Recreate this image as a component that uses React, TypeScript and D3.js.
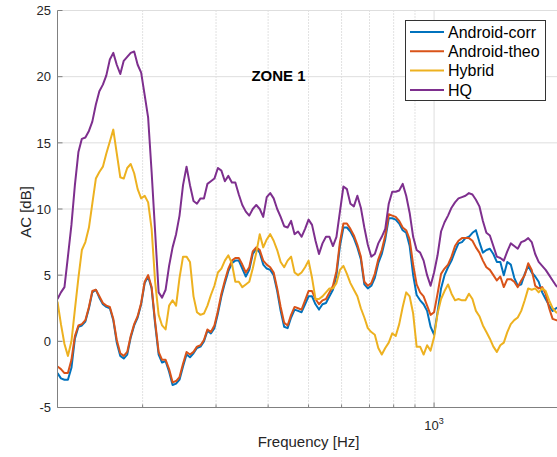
import React from 'react';
import * as d3 from 'd3';

// Frequency grid (Hz), 1/36-octave from 125 Hz to 2 kHz
const FREQ_HZ = [
  125.0, 127.4, 129.9, 132.4, 135.0, 137.6, 140.3, 143.0, 145.8, 148.7,
  151.5, 154.5, 157.5, 160.6, 163.7, 166.9, 170.1, 173.4, 176.8, 180.2,
  183.7, 187.3, 190.9, 194.6, 198.4, 202.3, 206.2, 210.2, 214.3, 218.5,
  222.7, 227.1, 231.5, 236.0, 240.6, 245.2, 250.0,
  254.9, 259.8, 264.9, 270.0, 275.3, 280.6, 286.1, 291.6, 297.3, 303.1,
  309.0, 315.0, 321.1, 327.4, 333.7, 340.2, 346.8, 353.6, 360.4, 367.4,
  374.6, 381.9, 389.3, 396.9, 404.6, 412.4, 420.5, 428.6, 437.0, 445.4,
  454.1, 462.9, 471.9, 481.1, 490.5, 500.0,
  509.7, 519.6, 529.7, 540.0, 550.5, 561.2, 572.1, 583.3, 594.6, 606.2,
  618.0, 630.0, 642.2, 654.7, 667.4, 680.4, 693.6, 707.1, 720.9, 734.9,
  749.2, 763.7, 778.6, 793.7, 809.1, 824.9, 840.9, 857.3, 873.9, 890.9,
  908.2, 925.9, 943.9, 962.2, 980.9, 1000.0,
  1019.4, 1039.3, 1059.5, 1080.1, 1101.1, 1122.5, 1144.3, 1166.5, 1189.2, 1212.3,
  1235.9, 1259.9, 1284.4, 1309.4, 1334.9, 1360.8, 1387.3, 1414.2, 1441.7, 1469.7,
  1498.3, 1527.4, 1557.1, 1587.4, 1618.3, 1649.8, 1681.8, 1714.5, 1747.8, 1781.8,
  1816.4, 1851.8, 1887.8, 1924.5, 1961.9, 2000.0,
];

const ANDROID_CORR = [
  -2.4, -2.8, -2.9, -2.9, -2.0, 0.2, 1.1, 1.2, 1.5, 2.5,
  3.7, 3.9, 3.3, 2.8, 2.6, 2.5, 1.6, -0.1, -1.1, -1.3,
  -1.0, 0.3, 1.2, 1.8, 2.8, 4.4, 4.9, 4.0, 1.3, -1.0,
  -1.6, -1.5, -2.3, -3.3, -3.2, -2.9, -1.9, -1.0, -1.2, -0.9,
  -0.5, -0.4, 0.0, 0.8, 0.6, 1.0, 2.1, 3.4, 4.4, 5.3,
  5.9, 6.1, 6.1, 5.5, 4.9, 5.4, 6.6, 7.0, 6.7, 5.8,
  5.5, 5.4, 5.0, 3.8, 2.3, 1.1, 1.0, 1.8, 2.4, 2.3,
  2.2, 2.8, 3.4, 3.4, 2.8, 2.4, 2.8, 2.9, 3.4, 3.9,
  5.0, 7.2, 8.6, 8.6, 8.3, 7.8, 7.1, 6.2, 4.3, 4.0,
  4.2, 4.8, 5.9, 6.6, 7.7, 9.3, 9.3, 9.2, 8.9, 8.4,
  8.2, 7.2, 5.0, 3.5, 3.1, 2.8, 2.3, 1.1, 0.5, 2.2,
  4.0, 5.0, 5.6, 6.1, 6.8, 7.4, 7.5, 7.8, 7.9, 8.2,
  8.4, 7.5, 6.7, 6.9, 7.0, 6.6, 6.0, 6.0, 5.0, 6.0,
  5.8, 4.8, 4.2, 4.3, 5.1, 5.7, 5.2, 4.9, 4.5, 3.7,
  3.2, 2.7, 2.3, 2.5, 2.6,
];

const ANDROID_THEO = [
  -1.9, -2.1, -2.4, -2.4, -1.4, 0.4, 1.2, 1.3, 1.6, 2.6,
  3.8, 3.9, 3.4, 2.9, 2.7, 2.6, 1.7, 0.1, -0.9, -1.1,
  -0.8, 0.4, 1.3, 1.9, 2.9, 4.5, 5.0, 4.1, 1.5, -0.8,
  -1.4, -1.4, -2.1, -3.1, -3.0, -2.7, -1.7, -0.8, -1.0, -0.8,
  -0.4, -0.3, 0.1, 0.9, 0.7, 1.2, 2.3, 3.6, 4.6, 5.5,
  6.1, 6.3, 6.3, 5.8, 5.2, 5.6, 6.8, 7.1, 6.9, 6.1,
  5.8, 5.6, 5.2, 4.0, 2.6, 1.4, 1.2, 2.0, 2.6, 2.5,
  2.4, 3.1, 3.8, 3.8, 3.2, 2.8, 3.1, 3.2, 3.7, 4.2,
  5.3, 7.5, 8.9, 8.9, 8.5, 8.0, 7.3, 6.4, 4.5, 4.2,
  4.4, 5.1, 6.2, 6.9, 8.0, 9.6, 9.5, 9.4, 9.1, 8.6,
  8.4, 7.7, 5.8, 4.3, 3.7, 3.4, 2.7, 2.0, 2.2, 3.6,
  5.1, 5.5, 5.8, 6.4, 7.2, 7.6, 7.8, 7.8, 7.8, 7.6,
  7.1, 6.7, 6.1, 5.6, 5.4, 5.0, 4.6, 4.9, 4.1, 4.7,
  4.7, 4.5, 4.1, 4.6, 5.0, 5.9, 5.4, 4.2, 4.0, 4.1,
  3.6, 2.5, 1.7, 1.6, 1.6,
];

const HYBRID = [
  3.0, 1.3, -0.2, -1.1, 0.0, 2.4, 4.8, 6.9, 7.5, 8.6,
  10.4, 12.3, 12.8, 13.2, 14.2, 15.1, 16.0, 14.2, 12.4, 12.3,
  13.1, 13.4, 12.7, 11.5, 10.8, 11.0, 10.5, 8.5, 4.5, 2.0,
  1.2, 0.9, 2.7, 3.1, 2.7, 4.8, 6.4, 6.4, 6.0, 3.4,
  2.2, 2.0, 2.1, 2.7, 3.5, 4.2, 5.2, 5.5, 6.1, 6.5,
  5.9, 4.5, 4.5, 4.1, 4.3, 4.5, 5.5, 6.7, 8.1, 7.1,
  7.7, 8.1, 7.6, 6.9, 6.0, 5.6, 6.1, 6.4, 5.2, 5.0,
  5.2, 5.6, 6.1, 4.8, 3.2, 3.2, 3.4, 3.7, 4.0, 4.0,
  4.4, 5.4, 5.7, 5.1, 4.4, 3.9, 3.4, 2.5, 1.8, 1.0,
  0.7, 0.5, -0.5, -1.0, -0.5, -0.1, 0.6, 0.4, 1.3, 2.6,
  3.7, 3.4, 2.1, -0.4, -0.4, -1.0, -0.3, -0.7, 0.3, 2.1,
  3.2, 3.8, 4.3, 3.6, 3.1, 3.2, 3.1, 3.1, 3.6, 3.2,
  2.3, 1.9, 1.2, 0.7, 0.2, -0.4, -0.8, -0.3, -0.1, 0.7,
  1.3, 1.6, 1.8, 2.3, 3.1, 4.0, 3.9, 4.0, 3.7, 4.0,
  3.8, 3.1, 2.5, 2.2, 2.1,
];

const HQ = [
  3.2, 3.7, 4.1, 6.4, 8.8, 11.8, 14.3, 15.3, 15.4, 15.9,
  16.6, 17.9, 18.9, 19.4, 20.1, 21.3, 21.8, 20.9, 20.2, 21.2,
  21.5, 21.8, 21.9, 20.9, 20.3, 18.6, 16.9, 12.8, 8.3, 3.7,
  3.3, 3.9, 5.7, 7.1, 8.1, 9.5, 11.8, 13.2, 11.8, 10.6,
  10.4, 10.8, 10.8, 11.9, 12.1, 12.3, 13.1, 12.9, 12.1, 12.5,
  12.0, 12.0, 11.1, 10.3, 9.8, 9.5, 10.0, 10.3, 10.0, 9.4,
  10.9, 11.2, 10.8, 10.0, 9.4, 8.7, 8.6, 9.1, 8.1, 8.3,
  7.9, 8.5, 9.2, 8.8, 7.6, 6.6, 7.4, 7.9, 7.9, 7.2,
  7.9, 9.8, 11.7, 11.5, 10.4, 10.2, 11.0, 10.1, 8.6, 7.3,
  6.4, 6.6, 7.4, 7.9, 8.5, 10.4, 11.3, 11.3, 11.4, 11.9,
  11.0, 9.7, 7.9, 6.9, 6.7, 6.1, 5.0, 4.2, 5.2, 6.5,
  8.3, 9.0, 9.5, 10.1, 10.5, 10.8, 10.9, 11.0, 11.2, 11.1,
  10.7, 10.2, 9.1, 8.2, 8.0, 7.2, 6.4, 6.3, 6.1, 6.8,
  7.4, 7.2, 7.0, 7.5, 7.6, 7.8, 7.5, 6.6, 6.0, 5.7,
  5.4, 5.0, 4.6, 4.2, 4.0,
];

const SERIES_NAMES = ['Android-corr', 'Android-theo', 'Hybrid', 'HQ'];
const SERIES_VALUES = [ANDROID_CORR, ANDROID_THEO, HYBRID, HQ];
const SERIES_COLORS = ['#0072BD', '#D95319', '#EDB120', '#7E2F8E'];

const Y_TICKS = [-5, 0, 5, 10, 15, 20, 25];
const X_MAJOR = [1000];
const X_MINOR = [200, 300, 400, 500, 600, 700, 800, 900, 2000];

const W = 557;
const H = 457;
const LEFT = 57.5;
const RIGHT = 559.6;
const TOP = 10.5;
const BOTTOM = 407.5;
const FONT = '"Liberation Sans", Arial, Helvetica, sans-serif';
const TEXT = '#262626';
const AXIS = '#808080';

export default function App() {
  const x = d3.scaleLog().domain([125, 2000]).range([LEFT, RIGHT]);
  const y = d3.scaleLinear().domain([-5, 25]).range([BOTTOM, TOP]);
  const line = d3
    .line<number>()
    .x((_, i) => x(FREQ_HZ[i]))
    .y((d) => y(d));

  return (
    <svg
      width={W}
      height={H}
      style={{ position: 'absolute', left: 0, top: 0, background: '#fff' }}
      fontFamily={FONT}
    >
      <defs>
        <clipPath id="plotClip">
          <rect x={LEFT} y={TOP} width={RIGHT - LEFT} height={BOTTOM - TOP} />
        </clipPath>
      </defs>
      <rect x={0} y={0} width={W} height={H} fill="#fff" />

      {/* grid */}
      {X_MINOR.map((f) => (
        <line
          key={'mn' + f}
          x1={x(f)}
          x2={x(f)}
          y1={TOP}
          y2={BOTTOM}
          stroke="#c4c4c4"
          strokeWidth={1}
          strokeDasharray="1 2"
        />
      ))}
      {X_MAJOR.map((f) => (
        <line key={'mj' + f} x1={x(f)} x2={x(f)} y1={TOP} y2={BOTTOM} stroke="#dedede" strokeWidth={1} />
      ))}
      {Y_TICKS.map((t) => (
        <line key={'gy' + t} x1={LEFT} x2={RIGHT} y1={y(t)} y2={y(t)} stroke="#dedede" strokeWidth={1} />
      ))}

      {/* series */}
      <g clipPath="url(#plotClip)">
        {SERIES_VALUES.map((vals, i) => (
          <path
            key={SERIES_NAMES[i]}
            d={line(vals) || ''}
            fill="none"
            stroke={SERIES_COLORS[i]}
            strokeWidth={2}
            strokeLinejoin="round"
          />
        ))}
      </g>

      {/* axes */}
      <line x1={LEFT} x2={LEFT} y1={TOP} y2={BOTTOM} stroke={AXIS} strokeWidth={1} />
      <line x1={LEFT} x2={RIGHT} y1={BOTTOM} y2={BOTTOM} stroke={AXIS} strokeWidth={1} />
      {Y_TICKS.map((t) => (
        <g key={'ty' + t}>
          <line x1={LEFT} x2={LEFT + 5} y1={y(t)} y2={y(t)} stroke={AXIS} strokeWidth={1} />
          <text x={51} y={y(t)} dy="0.36em" textAnchor="end" fontSize={13} fill={TEXT}>
            {t}
          </text>
        </g>
      ))}
      {X_MINOR.map((f) => (
        <line key={'tmn' + f} x1={x(f)} x2={x(f)} y1={BOTTOM} y2={BOTTOM - 3} stroke={AXIS} strokeWidth={1} />
      ))}
      {X_MAJOR.map((f) => (
        <g key={'tmj' + f}>
          <line x1={x(f)} x2={x(f)} y1={BOTTOM} y2={BOTTOM - 5} stroke={AXIS} strokeWidth={1} />
          <text x={x(f)} y={430} textAnchor="middle" fontSize={13} fill={TEXT}>
            10
            <tspan dy={-6} fontSize={9}>
              3
            </tspan>
          </text>
        </g>
      ))}

      {/* labels */}
      <text x={(LEFT + RIGHT) / 2} y={447} textAnchor="middle" fontSize={15} fill={TEXT}>
        Frequency [Hz]
      </text>
      <text transform="translate(31,212) rotate(-90)" textAnchor="middle" fontSize={15} fill={TEXT}>
        AC [dB]
      </text>
      <text x={278.5} y={81} textAnchor="middle" fontSize={15} fontWeight="bold" fill="#000">
        ZONE 1
      </text>

      {/* legend */}
      <g>
        <rect x={405.5} y={20.5} width={140} height={80} fill="#fff" stroke="#333" strokeWidth={1} />
        {SERIES_NAMES.map((name, i) => {
          const ly = 32 + i * 19.3;
          return (
            <g key={'lg' + name}>
              <line x1={410} x2={444} y1={ly} y2={ly} stroke={SERIES_COLORS[i]} strokeWidth={2} />
              <text x={448} y={ly} dy="0.36em" fontSize={16} fill="#000">
                {name}
              </text>
            </g>
          );
        })}
      </g>
    </svg>
  );
}
